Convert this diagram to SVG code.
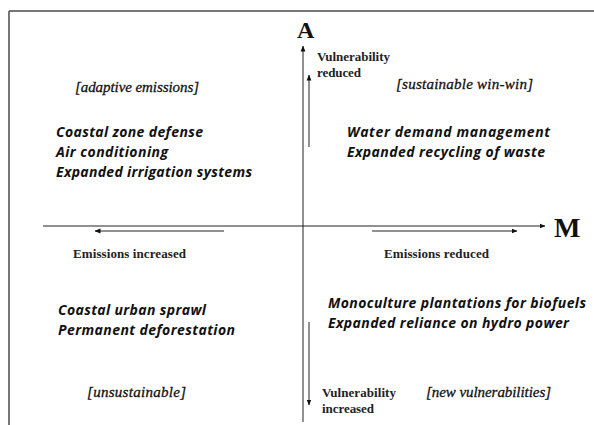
<svg xmlns="http://www.w3.org/2000/svg" width="594" height="425" viewBox="0 0 594 425">
  <style>
    .frame { stroke: #4a4a4a; stroke-width: 1.5; fill: none; }
    .axis { stroke: #222; stroke-width: 1; fill: none; }
    .dir { stroke: #222; stroke-width: 1; fill: none; }
    .head { fill: #111; }
    .axlabel { font-family: "Liberation Serif", "Times New Roman", serif; font-weight: bold; fill: #111; }
    .note { font-family: "Liberation Serif", "Times New Roman", serif; font-weight: bold; font-size: 13px; fill: #222; }
    .quad { font-family: "Liberation Serif", "Times New Roman", serif; font-style: italic; font-size: 15px; fill: #111; stroke: #111; stroke-width: 0.3; }
    .item { font-family: "Open Sans", Lato, sans-serif; font-style: italic; font-weight: 700; font-size: 14px; fill: #111; }
  </style>
  <defs>
    <marker id="tip" viewBox="0 0 6 6" refX="5.5" refY="3" markerWidth="6" markerHeight="6" markerUnits="userSpaceOnUse" orient="auto">
      <path class="head" d="M0,0.6 L6,3 L0,5.4 Z"/>
    </marker>
  </defs>

  <rect width="594" height="425" fill="#fff"/>

  <!-- page frame (top and left edges) -->
  <g id="frame">
    <line class="frame" x1="9" y1="11" x2="594" y2="11"/>
    <line class="frame" x1="9" y1="11" x2="9" y2="425"/>
  </g>

  <!-- axes and direction arrows -->
  <g id="connectors">
    <line class="axis" x1="303" y1="422" x2="303" y2="46" marker-end="url(#tip)"/>
    <line class="axis" x1="43" y1="226" x2="545" y2="226" marker-end="url(#tip)"/>
    <line class="dir" x1="309" y1="147" x2="309" y2="75" marker-end="url(#tip)"/>
    <line class="dir" x1="309" y1="322" x2="309" y2="405" marker-end="url(#tip)"/>
    <line class="dir" x1="224" y1="231" x2="95" y2="231" marker-end="url(#tip)"/>
    <line class="dir" x1="372" y1="231" x2="517" y2="231" marker-end="url(#tip)"/>
  </g>

  <!-- axis titles -->
  <g id="axis-a">
    <text class="axlabel" x="297" y="38" font-size="24">A</text>
  </g>
  <g id="axis-m">
    <text class="axlabel" x="554" y="237" font-size="28">M</text>
  </g>

  <!-- direction labels -->
  <g id="vuln-reduced">
    <text class="note" x="317" y="61" textLength="73">Vulnerability</text>
    <text class="note" x="317" y="77" textLength="44">reduced</text>
  </g>
  <g id="vuln-increased">
    <text class="note" x="322" y="397" textLength="74">Vulnerability</text>
    <text class="note" x="322" y="413" textLength="52">increased</text>
  </g>
  <g id="emissions-increased">
    <text class="note" x="73" y="258" textLength="113">Emissions increased</text>
  </g>
  <g id="emissions-reduced">
    <text class="note" x="384" y="258" textLength="105">Emissions reduced</text>
  </g>

  <!-- upper-left quadrant -->
  <g id="adaptive-emissions">
    <text class="quad" x="75" y="92" textLength="124">[adaptive emissions]</text>
    <text class="item" x="56" y="137" textLength="147">Coastal zone defense</text>
    <text class="item" x="56" y="157" textLength="112">Air conditioning</text>
    <text class="item" x="56" y="177" textLength="196">Expanded irrigation systems</text>
  </g>

  <!-- upper-right quadrant -->
  <g id="sustainable-win-win">
    <text class="quad" x="396" y="89" textLength="137">[sustainable win-win]</text>
    <text class="item" x="347" y="137" textLength="203">Water demand management</text>
    <text class="item" x="347" y="157" textLength="198">Expanded recycling of waste</text>
  </g>

  <!-- lower-left quadrant -->
  <g id="unsustainable">
    <text class="item" x="58" y="315" textLength="148">Coastal urban sprawl</text>
    <text class="item" x="58" y="335" textLength="177">Permanent deforestation</text>
    <text class="quad" x="87" y="397" textLength="99">[unsustainable]</text>
  </g>

  <!-- lower-right quadrant -->
  <g id="new-vulnerabilities">
    <text class="item" x="328" y="308" textLength="258">Monoculture plantations for biofuels</text>
    <text class="item" x="328" y="328" textLength="241">Expanded reliance on hydro power</text>
    <text class="quad" x="426" y="397" textLength="125">[new vulnerabilities]</text>
  </g>
</svg>
